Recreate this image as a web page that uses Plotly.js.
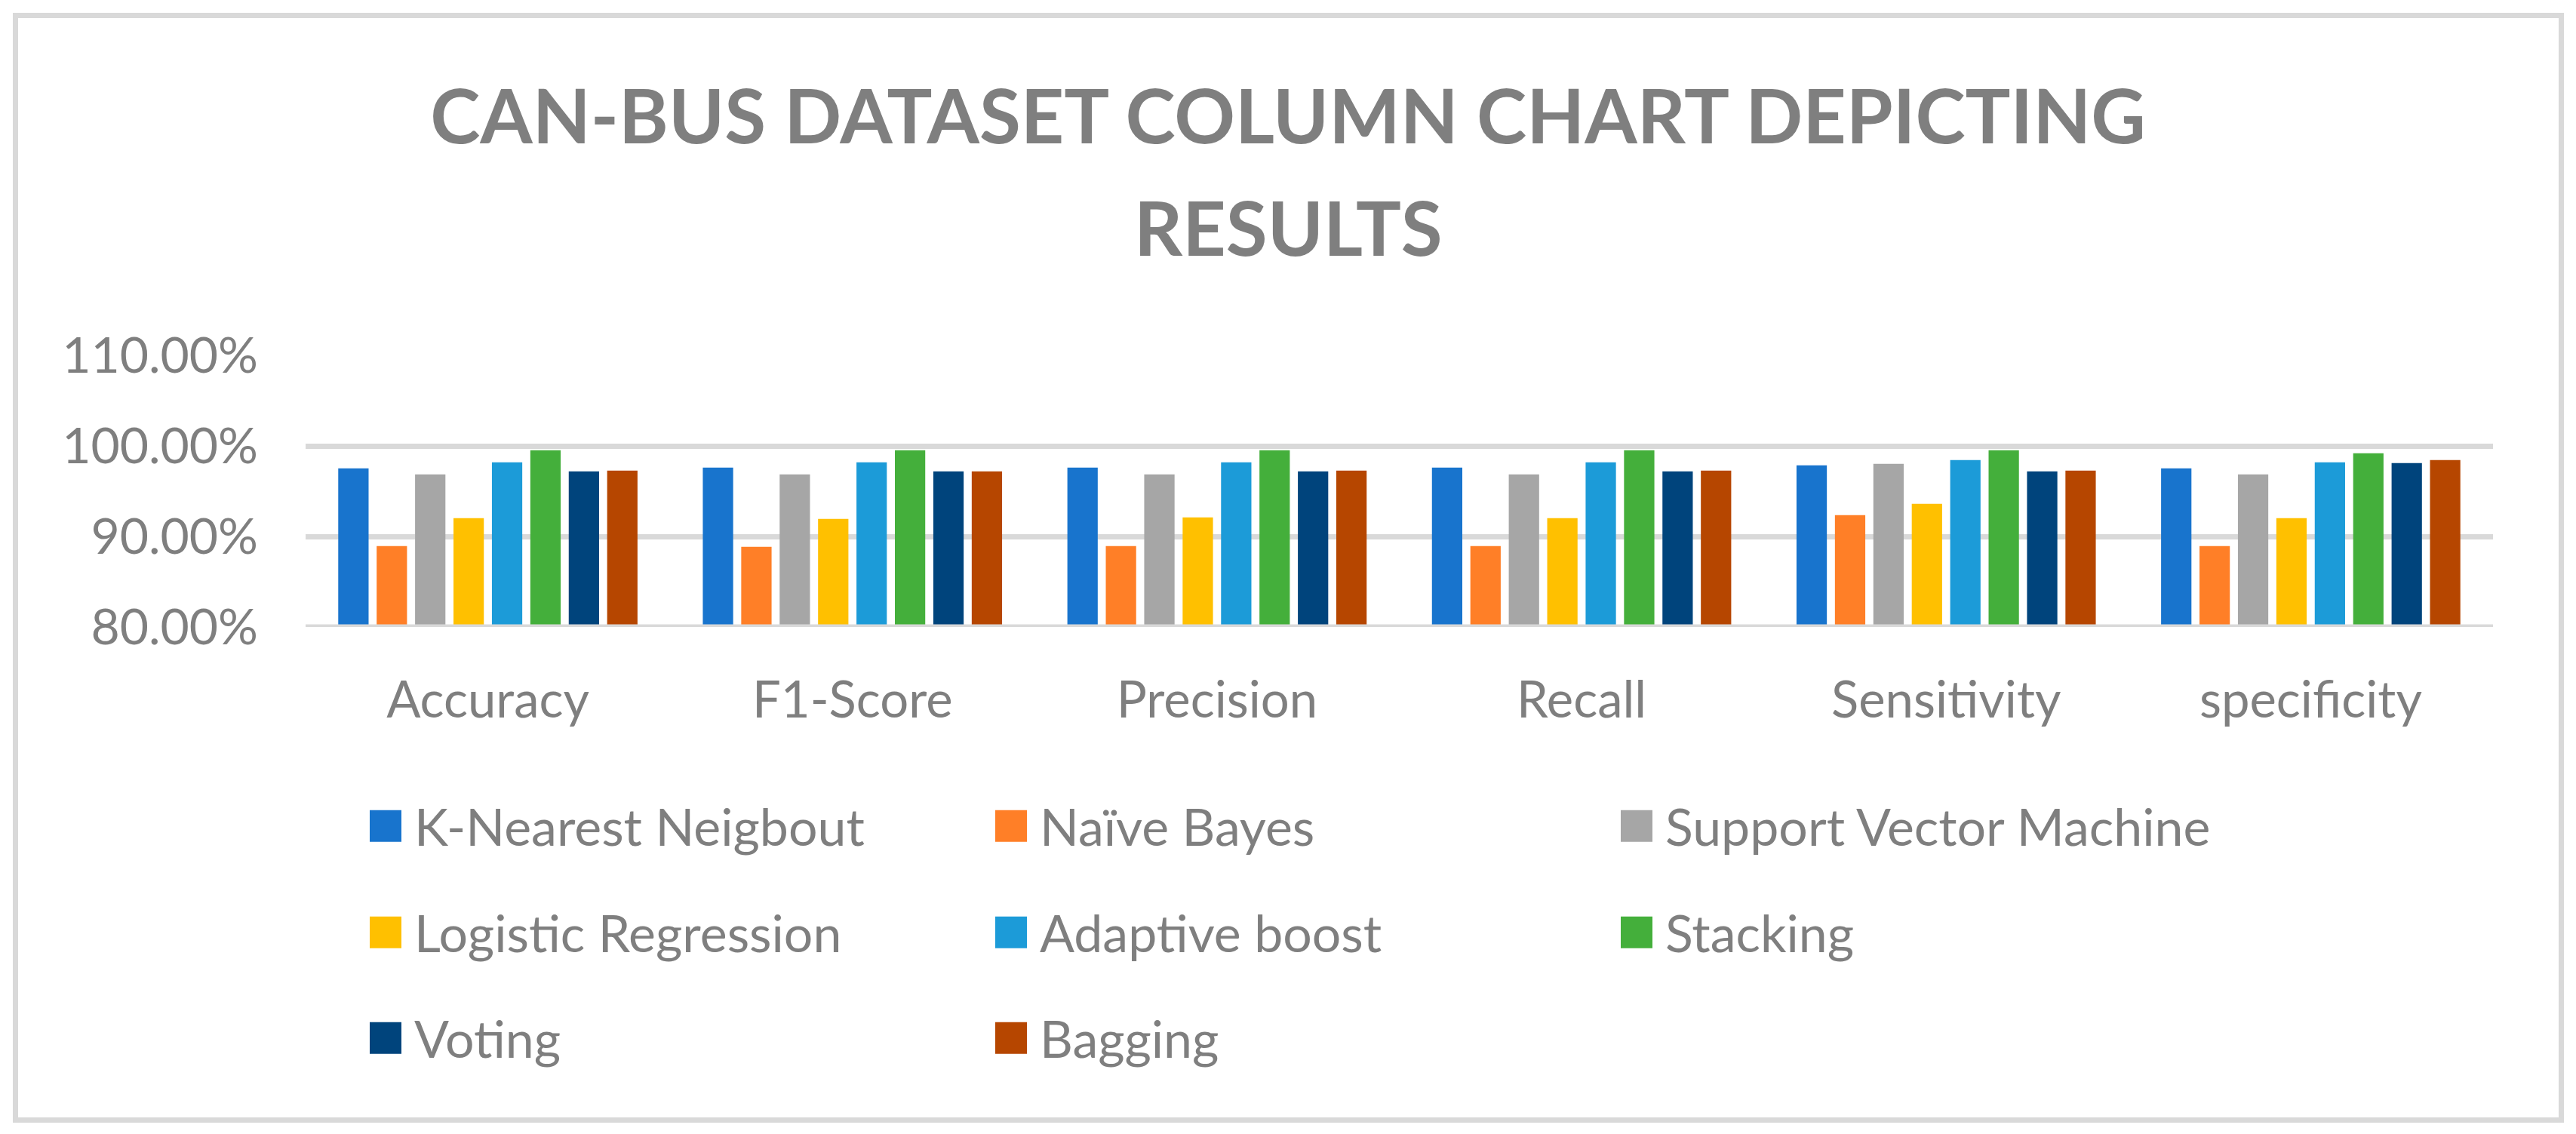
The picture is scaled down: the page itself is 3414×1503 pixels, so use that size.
<!DOCTYPE html>
<html>
<head>
<meta charset="utf-8">
<script src="https://cdn.plot.ly/plotly-3.0.1.min.js"></script>
<style>
html,body{margin:0;padding:0;background:#fff;}
#chart{width:3414px;height:1503px;}
</style>
</head>
<body>
<div id="chart"></div>
<script>
const categories = ["Accuracy", "F1-Score", "Precision", "Recall", "Sensitivity", "specificity"];

const knn      = [0.9753, 0.9761, 0.9761, 0.9761, 0.9786, 0.9753];
const naive    = [0.8894, 0.8886, 0.8894, 0.8894, 0.9236, 0.8894];
const svm      = [0.9686, 0.9686, 0.9686, 0.9686, 0.9803, 0.9686];
const logistic = [0.9203, 0.9194, 0.9211, 0.9203, 0.9361, 0.9203];
const adaboost = [0.9819, 0.9819, 0.9819, 0.9819, 0.9844, 0.9819];
const stacking = [0.9953, 0.9953, 0.9953, 0.9953, 0.9953, 0.9919];
const voting   = [0.9719, 0.9719, 0.9719, 0.9719, 0.9719, 0.9811];
const bagging  = [0.9728, 0.9719, 0.9728, 0.9728, 0.9728, 0.9844];

const seriesNames = ["K-Nearest Neigbout", "Naïve Bayes", "Support Vector Machine",
                     "Logistic Regression", "Adaptive boost", "Stacking", "Voting", "Bagging"];
const seriesValues = [knn, naive, svm, logistic, adaboost, stacking, voting, bagging];
const seriesColors = ["#1874CD", "#FF7F27", "#A6A6A6", "#FFC000", "#1C9BD8", "#44AF3B", "#00447C", "#B64600"];

const yTicks = [0.8, 0.9, 1.0, 1.1];
const titleLine1 = "CAN-BUS DATASET COLUMN CHART DEPICTING";
const titleLine2 = "RESULTS";

const W = 3414, H = 1503;
const M = {l: 405, r: 110, t: 471, b: 672, autoexpand: false};
const textColor = "#7f7f7f";
const gridColor = "#d9d9d9";
const FONT = "Lato, 'Open Sans', sans-serif";

const legendNames = ["legend", "legend2", "legend3"];
const traces = seriesNames.map((name, i) => ({
  type: "bar",
  name: name,
  x: categories,
  y: seriesValues[i],
  marker: {color: seriesColors[i]},
  legend: legendNames[Math.floor(i / 3)],
  hoverinfo: "skip"
}));

const rowY = [1095, 1236, 1376];
const legendBase = {
  orientation: "h",
  xref: "container", yref: "container",
  x: 509 / W,
  xanchor: "left", yanchor: "middle",
  font: {family: FONT, size: 68, color: textColor},
  itemwidth: 30,
  entrywidth: 784,
  entrywidthmode: "pixels",
  bgcolor: "rgba(0,0,0,0)",
  traceorder: "normal"
};

const pw = W - M.l - M.r, ph = H - M.t - M.b;
const bx0 = (20.5 - M.l) / pw, bx1 = (3394.5 - M.l) / pw;
const by0 = (H - 1484.5 - M.b) / ph, by1 = (H - 20.5 - M.b) / ph;
const toPaperY = py => (H - M.b - py) / ph;

const layout = {
  width: W, height: H,
  margin: M,
  paper_bgcolor: "#ffffff",
  plot_bgcolor: "#ffffff",
  font: {family: FONT, color: textColor, size: 66},
  title: {
    text: "<b>" + titleLine1 + "</b>",
    font: {family: FONT, size: 100, color: textColor},
    x: 0.5, xanchor: "center",
    xref: "container", yref: "container",
    y: 1 - 155 / H, yanchor: "middle"
  },
  annotations: [{
    text: "<b>" + titleLine2 + "</b>",
    font: {family: FONT, size: 100, color: textColor},
    xref: "paper", yref: "paper",
    x: (W / 2 - M.l) / pw, y: toPaperY(300),
    xanchor: "center", yanchor: "middle",
    showarrow: false
  }],
  barmode: "group",
  bargap: 0.157,
  bargroupgap: 0.21,
  xaxis: {
    type: "category",
    showgrid: false,
    showline: false,
    ticks: "",
    tickfont: {family: FONT, size: 67, color: textColor},
    ticklabelstandoff: 52,
    zeroline: false,
    fixedrange: true
  },
  yaxis: {
    range: [0.8, 1.1],
    tickvals: yTicks,
    tickformat: ".2%",
    showgrid: true,
    gridcolor: gridColor,
    gridwidth: 7,
    zeroline: false,
    showline: false,
    ticks: "",
    tickfont: {family: FONT, size: 66, color: textColor},
    ticklabelstandoff: 62,
    fixedrange: true
  },
  legend:  Object.assign({}, legendBase, {y: 1 - rowY[0] / H}),
  legend2: Object.assign({}, legendBase, {y: 1 - rowY[1] / H}),
  legend3: Object.assign({}, legendBase, {y: 1 - rowY[2] / H}),
  shapes: [
    {type: "line", xref: "paper", yref: "y", x0: 0, x1: 1, y0: 0.8, y1: 0.8,
     line: {color: gridColor, width: 7}, layer: "above"},
    {type: "rect", xref: "paper", yref: "paper", x0: bx0, x1: bx1, y0: by0, y1: by1,
     line: {color: gridColor, width: 7}, fillcolor: "rgba(0,0,0,0)", layer: "below"}
  ],
  showlegend: true
};

// Enlarge legend swatches to 42px squares, 17px left of their label
function restyleLegendSwatches() {
  const SW = 42, SCALE = SW / 12, GAP = 17;
  const paths = document.querySelectorAll(".legendpoints path");
  paths.forEach(path => {
    try {
      // find the legend entry group that holds both swatch and label
      let item = path.parentNode;
      while (item && !(item.querySelector && item.querySelector("text"))) item = item.parentNode;
      if (!item) return;
      let el = item;
      while (el && el.removeAttribute && el.tagName.toLowerCase() !== "svg") {
        el.removeAttribute("clip-path");
        el = el.parentNode;
      }
      const text = item.querySelector("text");
      path.setAttribute("transform", "scale(" + SCALE + ")");
      const pr = path.getBoundingClientRect();
      const tr = text.getBoundingClientRect();
      const targetCx = tr.left - GAP - SW / 2;
      const targetCy = tr.top + tr.height / 2;
      const dx = targetCx - (pr.left + pr.width / 2);
      const dy = targetCy - (pr.top + pr.height / 2);
      path.setAttribute("transform", "translate(" + dx + "," + dy + ") scale(" + SCALE + ")");
    } catch (e) { /* keep going with the other entries */ }
  });
}

const gd = document.getElementById("chart");
Plotly.newPlot(gd, traces, layout, {displayModeBar: false, staticPlot: true})
  .then(() => {
    restyleLegendSwatches();
    gd.on("plotly_afterplot", restyleLegendSwatches);
    [30, 150, 400].forEach(t => setTimeout(restyleLegendSwatches, t));
  });
</script>
</body>
</html>
